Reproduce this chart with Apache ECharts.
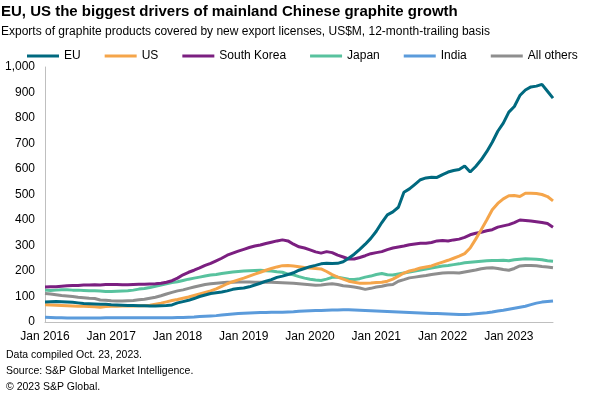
<!DOCTYPE html>
<html>
<head>
<meta charset="utf-8">
<script src="https://cdn.jsdelivr.net/npm/echarts@6/dist/echarts.min.js"></script>
<style>
html,body{margin:0;padding:0;background:#fff;}
#chart{width:600px;height:394px;}
</style>
</head>
<body>
<div id="chart"></div>
<script>
const titleText = "EU, US the biggest drivers of mainland Chinese graphite growth";
const subtitleText = "Exports of graphite products covered by new export licenses, US$M, 12-month-trailing basis";
const footerText = "Data compiled Oct. 23, 2023.\nSource: S&P Global Market Intelligence.\n\u00A9 2023 S&P Global.";

const monthNames = ["Jan","Feb","Mar","Apr","May","Jun","Jul","Aug","Sep","Oct","Nov","Dec"];
const years = [2016, 2017, 2018, 2019, 2020, 2021, 2022, 2023];
const lastMonthIndex2023 = 8; // Sep 2023

const seriesNames = ["EU", "US", "South Korea", "Japan", "India", "All others"];

const eu = [
  78,79,80,79,78,77,75,73,72,71,70,70,
  68,67,66,65,65,64,64,63,63,64,65,67,
  75,80,85,92,100,106,112,115,118,122,128,131,
  133,138,145,152,160,166,175,180,186,193,203,210,
  217,222,228,230,229,230,236,250,266,285,305,328,
  356,390,420,432,450,509,522,540,558,565,568,567,
  578,588,594,598,612,588,610,636,668,705,748,780,
  823,845,888,910,922,925,932,905,878
];
const us = [
  68,67,66,65,64,63,62,62,61,60,58,61,
  62,62,63,63,63,64,64,66,70,74,79,84,
  88,93,98,104,110,116,122,130,140,150,158,165,
  172,180,188,195,203,210,216,221,222,220,217,214,
  212,210,208,198,186,176,168,160,156,152,152,153,
  155,156,160,168,180,192,200,205,212,216,220,228,
  235,242,250,258,268,290,325,362,400,440,465,483,
  495,496,492,505,505,504,500,492,475
];
const southKorea = [
  137,138,138,140,142,143,143,145,145,146,145,147,
  147,147,146,146,147,148,148,149,150,152,156,162,
  172,185,195,203,212,222,230,240,250,262,270,278,
  285,292,298,302,308,313,318,322,318,305,295,290,
  283,275,270,276,272,262,255,247,247,253,260,268,
  272,276,284,290,294,298,303,306,309,309,312,318,
  320,318,322,325,332,342,348,352,358,362,372,377,
  382,390,400,398,396,393,390,386,372
];
const japan = [
  125,124,125,126,126,125,125,124,123,123,122,120,
  120,121,122,123,125,129,131,135,140,145,150,155,
  158,163,168,172,176,180,184,186,190,193,196,198,
  200,201,202,203,201,200,197,195,188,185,178,172,
  168,165,163,168,175,176,172,168,167,170,176,180,
  186,190,185,184,188,192,196,200,204,208,212,216,
  220,222,225,228,232,234,236,238,240,241,241,242,
  240,244,246,248,247,246,244,240,238
];
const india = [
  19,18,17,17,16,16,16,16,16,16,16,17,
  17,17,17,17,17,17,17,17,17,17,17,17,
  18,18,19,20,22,23,24,25,27,29,31,33,
  34,35,36,37,37,38,38,38,39,40,42,43,
  44,45,45,46,47,47,48,48,47,46,45,44,
  43,42,41,40,39,38,37,36,35,34,33,33,
  32,31,30,29,29,30,32,34,36,39,43,46,
  50,54,58,62,68,74,78,80,82
];
const allOthers = [
  112,110,107,104,102,100,97,95,93,92,86,85,
  83,82,82,83,84,87,89,93,97,103,110,116,
  122,126,132,137,142,147,150,152,154,156,156,157,
  157,157,156,156,157,156,155,154,153,152,150,148,
  146,144,145,148,150,147,142,140,137,133,128,132,
  137,140,145,147,160,166,173,176,179,182,186,189,
  192,193,193,192,196,200,204,209,212,213,210,206,
  203,210,220,222,222,221,218,216,213
];

const colors = ["#00697F", "#F5A54A", "#7B1F80", "#58C29E", "#5B9BDB", "#8E8E8E"];

const yTicks = { min: 0, max: 1000, interval: 100 };

// categories: one per month
const categories = [];
years.forEach(function (y) {
  monthNames.forEach(function (m, mi) {
    if (y === 2023 && mi > lastMonthIndex2023) return;
    categories.push(m + " " + y);
  });
});

const seriesData = [eu, us, southKorea, japan, india, allOthers];

const FONT = "'Liberation Sans', Arial, sans-serif";

const chart = echarts.init(document.getElementById('chart'), null, { renderer: 'canvas' });
chart.setOption({
  animation: false,
  backgroundColor: '#ffffff',
  color: colors,
  title: [
    { text: titleText, left: 1, top: 0, padding: [4, 0, 0, 0], textStyle: { fontFamily: FONT, fontSize: 15, fontWeight: 'bold', color: '#000' } },
    { text: subtitleText, left: 1, top: 24, padding: [2, 0, 0, 0], textStyle: { fontFamily: FONT, fontSize: 12, fontWeight: 'normal', color: '#000' } },
    { text: footerText, left: 1, top: 342, textStyle: { fontFamily: FONT, fontSize: 10.5, fontWeight: 'normal', color: '#000', lineHeight: 16 } }
  ],
  legend: {
    data: seriesNames,
    left: 27,
    top: 50,
    padding: 0,
    icon: 'rect',
    itemWidth: 32,
    itemHeight: 3,
    itemGap: 24,
    textStyle: { fontFamily: FONT, fontSize: 12, color: '#000' }
  },
  grid: { left: 45, right: 47, top: 67, bottom: 72, containLabel: false },
  xAxis: {
    type: 'category',
    data: categories,
    boundaryGap: false,
    axisLine: { lineStyle: { color: '#BFBFBF', width: 1 } },
    axisTick: { show: false },
    splitLine: { show: false },
    axisLabel: {
      interval: function (idx, val) { return val.indexOf('Jan') === 0; },
      fontFamily: FONT, fontSize: 12, color: '#000', margin: 9
    }
  },
  yAxis: {
    type: 'value',
    min: yTicks.min, max: yTicks.max, interval: yTicks.interval,
    axisLine: { show: true, lineStyle: { color: '#BFBFBF', width: 1 } },
    axisTick: { show: false },
    splitLine: { show: false },
    axisLabel: {
      fontFamily: FONT, fontSize: 12, color: '#000', margin: 10,
      formatter: function (v) { return v.toLocaleString('en-US'); }
    }
  },
  series: seriesNames.map(function (name, i) {
    return {
      name: name,
      type: 'line',
      data: seriesData[i],
      showSymbol: false,
      symbol: 'none',
      lineStyle: { width: 3, color: colors[i] },
      itemStyle: { color: colors[i] },
      z: 10 - (i === 0 ? -5 : i)
    };
  })
});
</script>
</body>
</html>
